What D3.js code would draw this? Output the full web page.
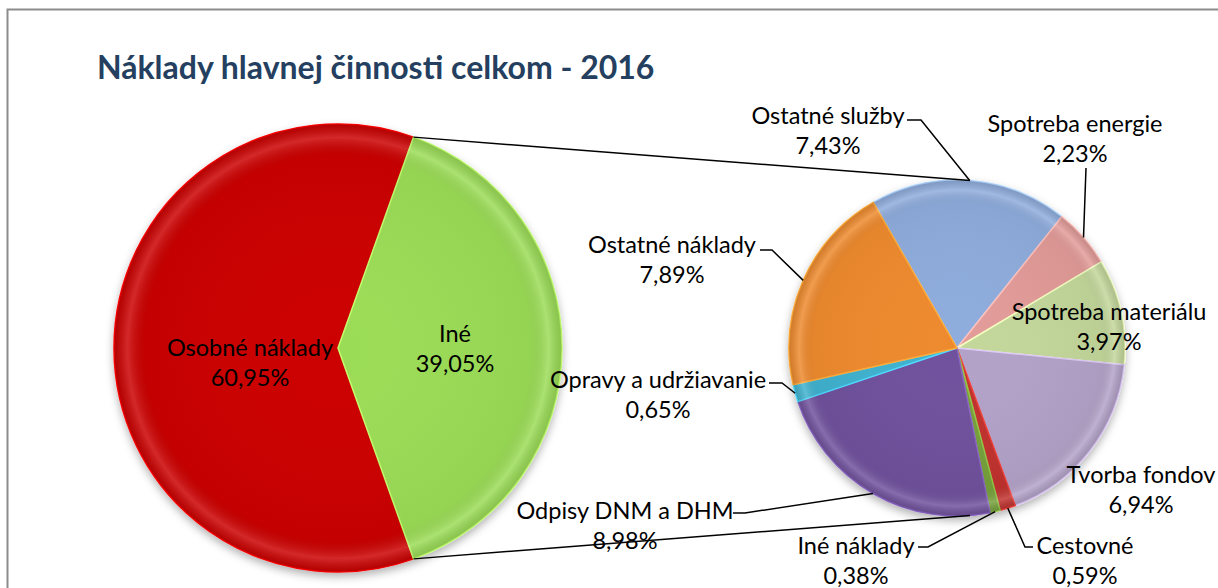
<!DOCTYPE html>
<html>
<head>
<meta charset="utf-8">
<script src="https://cdn.jsdelivr.net/npm/d3@7"></script>
<style>
  body { margin: 0; background: #fff; }
  text { font-family: Lato, "Open Sans", sans-serif; fill: #000; }
</style>
</head>
<body>
<script>
// chart data
var title = "Náklady hlavnej činnosti celkom - 2016";

var primaryLabels = ["Osobné náklady", "Iné"];
var primaryValues = [60.95, 39.05];
var primaryColors = ["#cc0000", "#9bdc57"];

var secondaryLabels = ["Ostatné služby", "Spotreba energie", "Spotreba materiálu", "Tvorba fondov",
  "Cestovné", "Iné náklady", "Odpisy DNM a DHM", "Opravy a udržiavanie", "Ostatné náklady"];
var secondaryValues = [7.43, 2.23, 3.97, 6.94, 0.59, 0.38, 8.98, 0.65, 7.89];
var secondaryColors = ["#8eacdc", "#e29b98", "#c3d79b", "#b3a2c8", "#c0332f", "#76a03a", "#6f519d", "#3fb2cf", "#ee8a2e"];

// layout (pixels)
var W = 1218, H = 588;
var main = {cx: 338, cy: 348, r: 224, id: "bevelMain"};
var second = {cx: 957, cy: 348, r: 168, start: -29.9, id: "bevelSecond"};
var lineGap = 30;
var labelSize = "23.5px";

// label placement: text centre x, first line y, optional leader elbow points
var primaryLabelPos = {
  "Osobné náklady": {x: 250, y: 348},
  "Iné": {x: 455, y: 334}
};
var secondaryLabelPos = {
  "Ostatné služby": {x: 828, y: 116, leader: [[907, 120], [921, 120]]},
  "Spotreba energie": {x: 1075, y: 124, leader: [[1086, 168]]},
  "Spotreba materiálu": {x: 1109, y: 312},
  "Tvorba fondov": {x: 1141, y: 475},
  "Cestovné": {x: 1085, y: 546, leader: [[1033, 547], [1025, 547]]},
  "Iné náklady": {x: 856, y: 546, leader: [[918, 547], [928, 547]]},
  "Odpisy DNM a DHM": {x: 625, y: 511, leader: [[733, 513], [745, 513]]},
  "Opravy a udržiavanie": {x: 658, y: 380, leader: [[769, 383], [782, 383]]},
  "Ostatné náklady": {x: 672, y: 245, leader: [[760, 250], [772, 250]]}
};

var fmt = function(v){ return d3.format(".2f")(v).replace(".", ",") + "%"; };
var rad = Math.PI / 180;

var svg = d3.select("body").append("svg")
    .attr("width", W)
    .attr("height", H);

var defs = svg.append("defs");
var shadow = defs.append("filter").attr("id", "shadow")
    .attr("x", "-20%").attr("y", "-20%").attr("width", "140%").attr("height", "140%");
shadow.append("feDropShadow")
    .attr("dx", 0).attr("dy", 4).attr("stdDeviation", 4)
    .attr("flood-color", "#000").attr("flood-opacity", 0.3);

// soft rim shading, one gradient per pie
[main, second].forEach(function(c){
  var bevel = defs.append("radialGradient").attr("id", c.id)
      .attr("gradientUnits", "userSpaceOnUse")
      .attr("cx", 0).attr("cy", 0).attr("r", c.r);
  bevel.append("stop").attr("offset", "0%").attr("stop-color", "#fff").attr("stop-opacity", 0);
  bevel.append("stop").attr("offset", "86%").attr("stop-color", "#000").attr("stop-opacity", 0.04);
  bevel.append("stop").attr("offset", "94%").attr("stop-color", "#fff").attr("stop-opacity", 0.16);
  bevel.append("stop").attr("offset", "100%").attr("stop-color", "#000").attr("stop-opacity", 0.12);
});

// frame
svg.append("rect")
    .attr("x", 7.5).attr("y", 9.5)
    .attr("width", W + 20).attr("height", H + 20)
    .attr("fill", "none")
    .attr("stroke", "#8c8c8c")
    .attr("stroke-width", 2);

svg.append("text")
    .attr("x", 97).attr("y", 79)
    .style("font-size", "32px")
    .style("font-weight", "bold")
    .style("fill", "#243f60")
    .text(title);

function drawPie(values, colors, conf, startAngle){
  var pie = d3.pie().sort(null).value(function(d){ return d; })
      .startAngle(startAngle).endAngle(startAngle + 2 * Math.PI);
  var arcs = pie(values);
  var arc = d3.arc().innerRadius(0).outerRadius(conf.r);

  var g = svg.append("g")
      .attr("transform", "translate(" + conf.cx + "," + conf.cy + ")");
  var sg = g.append("g").attr("filter", "url(#shadow)");
  sg.selectAll("path.slice")
      .data(arcs)
    .enter().append("path")
      .attr("class", "slice")
      .attr("d", arc)
      .attr("fill", function(d, i){ return colors[i]; })
      .attr("stroke", function(d, i){ return d3.color(colors[i]).brighter(0.6); })
      .attr("stroke-width", 1.5)
      .attr("stroke-linejoin", "round");
  g.selectAll("path.bevel")
      .data(arcs)
    .enter().append("path")
      .attr("class", "bevel")
      .attr("d", arc)
      .attr("fill", "url(#" + conf.id + ")");
  return arcs;
}

// primary pie: "Iné" centred on the right side
var ineAngle = 2 * Math.PI * primaryValues[1] / d3.sum(primaryValues);
var mainArcs = drawPie(primaryValues, primaryColors, main, Math.PI / 2 + ineAngle / 2);
var secondArcs = drawPie(secondaryValues, secondaryColors, second, second.start * rad);

function onCircle(c, a){
  return [c.cx + c.r * Math.sin(a), c.cy - c.r * Math.cos(a)];
}

// connector lines: from the split points of the primary pie, tangent to the secondary pie
function tangent(p, c, upper){
  var dx = p[0] - c.cx, dy = p[1] - c.cy;
  var d = Math.sqrt(dx * dx + dy * dy);
  var th = Math.atan2(dy, dx), al = Math.acos(c.r / d);
  var t1 = [c.cx + c.r * Math.cos(th + al), c.cy + c.r * Math.sin(th + al)];
  var t2 = [c.cx + c.r * Math.cos(th - al), c.cy + c.r * Math.sin(th - al)];
  if (upper) return t1[1] < t2[1] ? t1 : t2;
  return t1[1] > t2[1] ? t1 : t2;
}
var ine = mainArcs[1];
var pTop = onCircle(main, ine.startAngle);
var pBot = onCircle(main, ine.endAngle);
var line = d3.line();
svg.append("path").attr("d", line([pTop, tangent(pTop, second, true)]))
    .attr("stroke", "#000").attr("stroke-width", 1.5).attr("fill", "none");
svg.append("path").attr("d", line([pBot, tangent(pBot, second, false)]))
    .attr("stroke", "#000").attr("stroke-width", 1.5).attr("fill", "none");

function addLabel(pos, name, value){
  var t = svg.append("text")
      .attr("text-anchor", "middle")
      .style("font-size", labelSize);
  t.append("tspan").attr("x", pos.x).attr("y", pos.y).attr("dy", "0.35em").text(name);
  t.append("tspan").attr("x", pos.x).attr("y", pos.y + lineGap).attr("dy", "0.35em").text(fmt(value));
}

primaryLabels.forEach(function(name, i){
  addLabel(primaryLabelPos[name], name, primaryValues[i]);
});

secondaryLabels.forEach(function(name, i){
  var pos = secondaryLabelPos[name];
  if (pos.leader){
    var a = (secondArcs[i].startAngle + secondArcs[i].endAngle) / 2;
    var pts = pos.leader.concat([onCircle(second, a)]);
    svg.append("path").attr("d", line(pts))
        .attr("stroke", "#000").attr("stroke-width", 1.5).attr("fill", "none");
  }
  addLabel(pos, name, secondaryValues[i]);
});
</script>
</body>
</html>
